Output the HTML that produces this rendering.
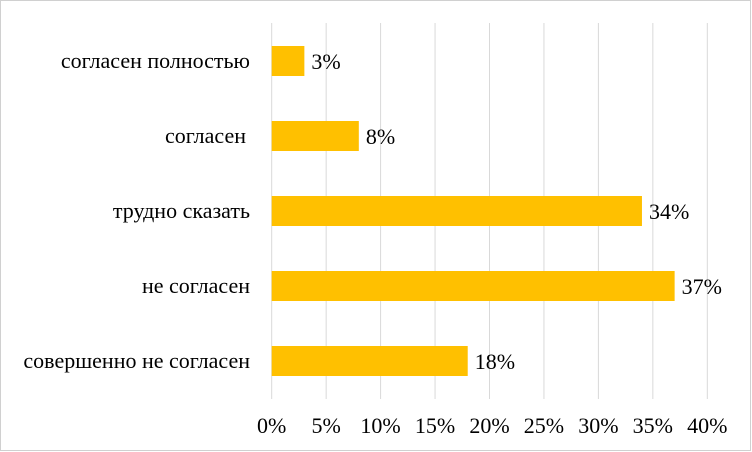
<!DOCTYPE html>
<html><head><meta charset="utf-8"><style>
body{margin:0;background:#fff}
svg{display:block;font-family:"Liberation Serif",serif}
</style></head><body>
<svg id="chart" width="752" height="452">
<rect x="0.5" y="0.5" width="750" height="450" fill="#fff" stroke="#d0d0d0" stroke-width="1"/>
<g id="grid"></g><g id="bars"></g><g id="labels"></g>
</svg>
<script>
const categories=["согласен полностью","согласен ","трудно сказать","не согласен","совершенно не согласен"];
const values=[3,8,34,37,18];
const ticks=[0,5,10,15,20,25,30,35,40];
const NS="http://www.w3.org/2000/svg";
const x=v=>271.7+v*10.89;
const y=i=>46+i*75;
function mk(t,a,p){const e=document.createElementNS(NS,t);for(const k in a)e.setAttribute(k,a[k]);p.appendChild(e);return e;}
const g=document.getElementById('grid'),b=document.getElementById('bars'),l=document.getElementById('labels');
ticks.forEach(t=>{
 const ln=mk('line',{x1:x(t),x2:x(t),y1:23,y2:399,stroke:'#d9d9d9','stroke-width':1},g);
 
 
 const tx=mk('text',{x:x(t),y:433,'text-anchor':'middle','font-size':22,fill:'#000'},l);
 tx.textContent=t+'%';
 
 
});
categories.forEach((c,i)=>{
 const r=mk('rect',{x:x(0),y:y(i),width:x(values[i])-x(0),height:30,fill:'#ffc000'},b);
 
 
 const ct=mk('text',{x:c.endsWith(' ')?246:250,y:y(i)+22,'text-anchor':'end','font-size':22,fill:'#000'},l);
 ct.textContent=c.trim();
 
 
 const vt=mk('text',{x:x(values[i])+7,y:y(i)+23,'font-size':22,fill:'#000'},l);
 vt.textContent=values[i]+'%';
 
 
});
</script>
</body></html>
